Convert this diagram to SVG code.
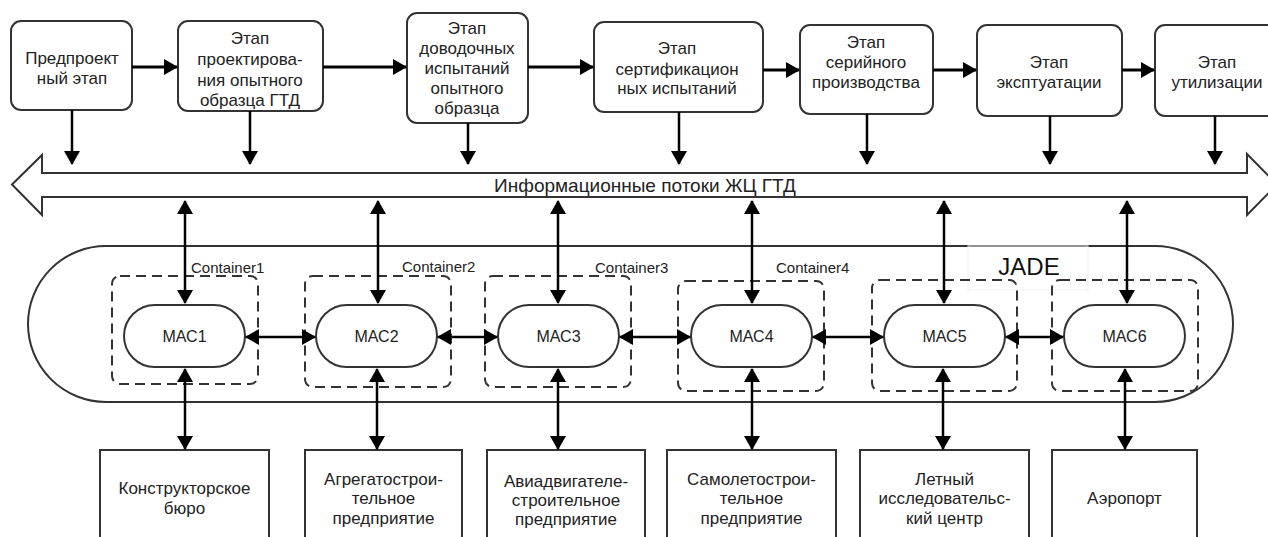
<svg xmlns="http://www.w3.org/2000/svg" width="1268" height="537" viewBox="0 0 1268 537">
<style>
.t{font-family:"Liberation Sans",Arial,sans-serif;font-size:17px;fill:#222;text-anchor:middle}
.m{font-family:"Liberation Sans",Arial,sans-serif;font-size:16px;fill:#222;text-anchor:middle}
.stage{fill:#fff;stroke:#333;stroke-width:2}
.org{fill:#fff;stroke:#333;stroke-width:2}
.mac{fill:#fff;stroke:#333;stroke-width:2}
.cont{fill:none;stroke:#333;stroke-width:2;stroke-dasharray:10 6}
.clab{font-family:"Liberation Sans",Arial,sans-serif;font-size:15px;fill:#222}
.a3{stroke:#000;stroke-width:3;fill:none;marker-end:url(#ah)}
.a2{stroke:#000;stroke-width:2.5;fill:none;marker-end:url(#ah)}
.d2{stroke:#000;stroke-width:2.5;fill:none;marker-start:url(#ah);marker-end:url(#ah)}
</style>
<defs>
<marker id="ah" viewBox="0 0 14 16" refX="13" refY="8" markerWidth="14" markerHeight="16" markerUnits="userSpaceOnUse" orient="auto-start-reverse"><path d="M0,0 L14,8 L0,16 z" fill="#000"/></marker>
</defs>
<rect width="1268" height="537" fill="#fff"/>

<g id="stage1"><rect class="stage" x="11" y="21" width="121" height="89" rx="10"/><text class="t" x="72" y="64">Предпроект</text><text class="t" x="72" y="84">ный этап</text></g>
<g id="stage2"><rect class="stage" x="178" y="21" width="145" height="90" rx="10"/><text class="t" x="250" y="44">Этап</text><text class="t" x="250" y="65">проектирова-</text><text class="t" x="250" y="86">ния опытного</text><text class="t" x="250" y="106">образца ГТД</text></g>
<g id="stage3"><rect class="stage" x="407" y="13" width="121" height="110" rx="10"/><text class="t" x="467" y="34">Этап</text><text class="t" x="467" y="54">доводочных</text><text class="t" x="467" y="74">испытаний</text><text class="t" x="467" y="94">опытного</text><text class="t" x="467" y="114">образца</text></g>
<g id="stage4"><rect class="stage" x="594" y="22" width="169" height="90" rx="10"/><text class="t" x="677" y="54">Этап</text><text class="t" x="677" y="75">сертификацион</text><text class="t" x="677" y="94">ных испытаний</text></g>
<g id="stage5"><rect class="stage" x="800" y="25" width="133" height="89" rx="10"/><text class="t" x="866" y="48">Этап</text><text class="t" x="866" y="68">серийного</text><text class="t" x="866" y="88">производства</text></g>
<g id="stage6"><rect class="stage" x="977" y="25" width="145" height="91" rx="10"/><text class="t" x="1049" y="68">Этап</text><text class="t" x="1049" y="88">эксптуатации</text></g>
<g id="stage7"><rect class="stage" x="1155" y="25" width="124" height="91" rx="10"/><text class="t" x="1217" y="68">Этап</text><text class="t" x="1217" y="88">утилизации</text></g>

<g id="flows"><polygon points="12,184.5 42,155 42,173 1247,173 1247,154 1277,184.5 1247,215 1247,197 42,197 42,215" fill="#fff" stroke="#333" stroke-width="2"/><text x="645" y="191.5" font-family="Liberation Sans, Arial, sans-serif" font-size="19" fill="#222" text-anchor="middle">Информационные потоки ЖЦ ГТД</text></g>

<g id="jade"><rect x="28" y="246" width="1205" height="156" rx="78" fill="#fff" stroke="#333" stroke-width="2"/><rect x="968" y="246" width="120" height="44" fill="none" stroke="#efefef" stroke-width="1"/><text x="1029" y="275" font-family="Liberation Sans, Arial, sans-serif" font-size="24" fill="#111" text-anchor="middle">JADE</text></g>

<g id="container1"><rect class="cont" x="112" y="276" width="146" height="108" rx="8"/><text class="clab" x="191" y="273">Container1</text></g>
<g id="container2"><rect class="cont" x="305" y="276" width="146" height="111" rx="8"/><text class="clab" x="402" y="272">Container2</text></g>
<g id="container3"><rect class="cont" x="485" y="276" width="146" height="111" rx="8"/><text class="clab" x="595" y="273">Container3</text></g>
<g id="container4"><rect class="cont" x="678" y="281" width="146" height="110" rx="8"/><text class="clab" x="776" y="273">Container4</text></g>
<g id="container5"><rect class="cont" x="872" y="280" width="145" height="111" rx="8"/></g>
<g id="container6"><rect class="cont" x="1052" y="280" width="146" height="111" rx="8"/></g>

<g id="mac1"><rect class="mac" x="124" y="305" width="121" height="62" rx="31"/><text class="m" x="184.5" y="342">МАС1</text></g>
<g id="mac2"><rect class="mac" x="316" y="305" width="121" height="62" rx="31"/><text class="m" x="376.5" y="342">МАС2</text></g>
<g id="mac3"><rect class="mac" x="498" y="305" width="121" height="62" rx="31"/><text class="m" x="558.5" y="342">МАС3</text></g>
<g id="mac4"><rect class="mac" x="691" y="305" width="121" height="62" rx="31"/><text class="m" x="751.5" y="342">МАС4</text></g>
<g id="mac5"><rect class="mac" x="884" y="305" width="121" height="62" rx="31"/><text class="m" x="944.5" y="342">МАС5</text></g>
<g id="mac6"><rect class="mac" x="1064" y="305" width="121" height="62" rx="31"/><text class="m" x="1124.5" y="342">МАС6</text></g>

<g id="org1"><rect class="org" x="100" y="450" width="169" height="100"/><text class="t" x="184.5" y="494">Конструкторское</text><text class="t" x="184.5" y="514">бюро</text></g>
<g id="org2"><rect class="org" x="305" y="450" width="157" height="100"/><text class="t" x="383.5" y="485">Агрегатострои-</text><text class="t" x="383.5" y="504">тельное</text><text class="t" x="383.5" y="524">предприятие</text></g>
<g id="org3"><rect class="org" x="487" y="450" width="158" height="100"/><text class="t" x="566" y="487">Авиадвигателе-</text><text class="t" x="566" y="506">строительное</text><text class="t" x="566" y="525">предприятие</text></g>
<g id="org4"><rect class="org" x="667" y="450" width="169" height="100"/><text class="t" x="751.5" y="485">Самолетострои-</text><text class="t" x="751.5" y="504">тельное</text><text class="t" x="751.5" y="524">предприятие</text></g>
<g id="org5"><rect class="org" x="860" y="450" width="169" height="100"/><text class="t" x="944.5" y="485">Летный</text><text class="t" x="944.5" y="504">исследовательс-</text><text class="t" x="944.5" y="524">кий центр</text></g>
<g id="org6"><rect class="org" x="1052" y="450" width="145" height="100"/><text class="t" x="1124.5" y="504">Аэропорт</text></g>

<g id="connectors">
<line class="a3" x1="132" y1="67" x2="177" y2="67"/>
<line class="a3" x1="323" y1="67" x2="406" y2="67"/>
<line class="a3" x1="528" y1="67" x2="593" y2="67"/>
<line class="a3" x1="763" y1="70" x2="799" y2="70"/>
<line class="a3" x1="933" y1="70" x2="976" y2="70"/>
<line class="a3" x1="1122" y1="70" x2="1154" y2="70"/>
<line class="a2" x1="72" y1="110" x2="72" y2="164"/>
<line class="a2" x1="250" y1="111" x2="250" y2="164"/>
<line class="a2" x1="468" y1="123" x2="468" y2="164"/>
<line class="a2" x1="679" y1="112" x2="679" y2="164"/>
<line class="a2" x1="867" y1="114" x2="867" y2="164"/>
<line class="a2" x1="1050" y1="116" x2="1050" y2="164"/>
<line class="a2" x1="1215" y1="116" x2="1215" y2="164"/>
<line class="d2" x1="185" y1="201" x2="185" y2="303"/>
<line class="d2" x1="378" y1="201" x2="378" y2="303"/>
<line class="d2" x1="558" y1="201" x2="558" y2="303"/>
<line class="d2" x1="752" y1="201" x2="752" y2="303"/>
<line class="d2" x1="944" y1="201" x2="944" y2="303"/>
<line class="d2" x1="1127" y1="201" x2="1127" y2="303"/>
<line class="d2" x1="185" y1="369" x2="185" y2="449"/>
<line class="d2" x1="377" y1="369" x2="377" y2="449"/>
<line class="d2" x1="558" y1="369" x2="558" y2="449"/>
<line class="d2" x1="752" y1="369" x2="752" y2="449"/>
<line class="d2" x1="943" y1="369" x2="943" y2="449"/>
<line class="d2" x1="1125" y1="369" x2="1125" y2="449"/>
<line class="d2" x1="246" y1="337" x2="315" y2="337"/>
<line class="d2" x1="438" y1="337" x2="497" y2="337"/>
<line class="d2" x1="620" y1="337" x2="690" y2="337"/>
<line class="d2" x1="813" y1="337" x2="883" y2="337"/>
<line class="d2" x1="1006" y1="337" x2="1063" y2="337"/>
</g>
</svg>
